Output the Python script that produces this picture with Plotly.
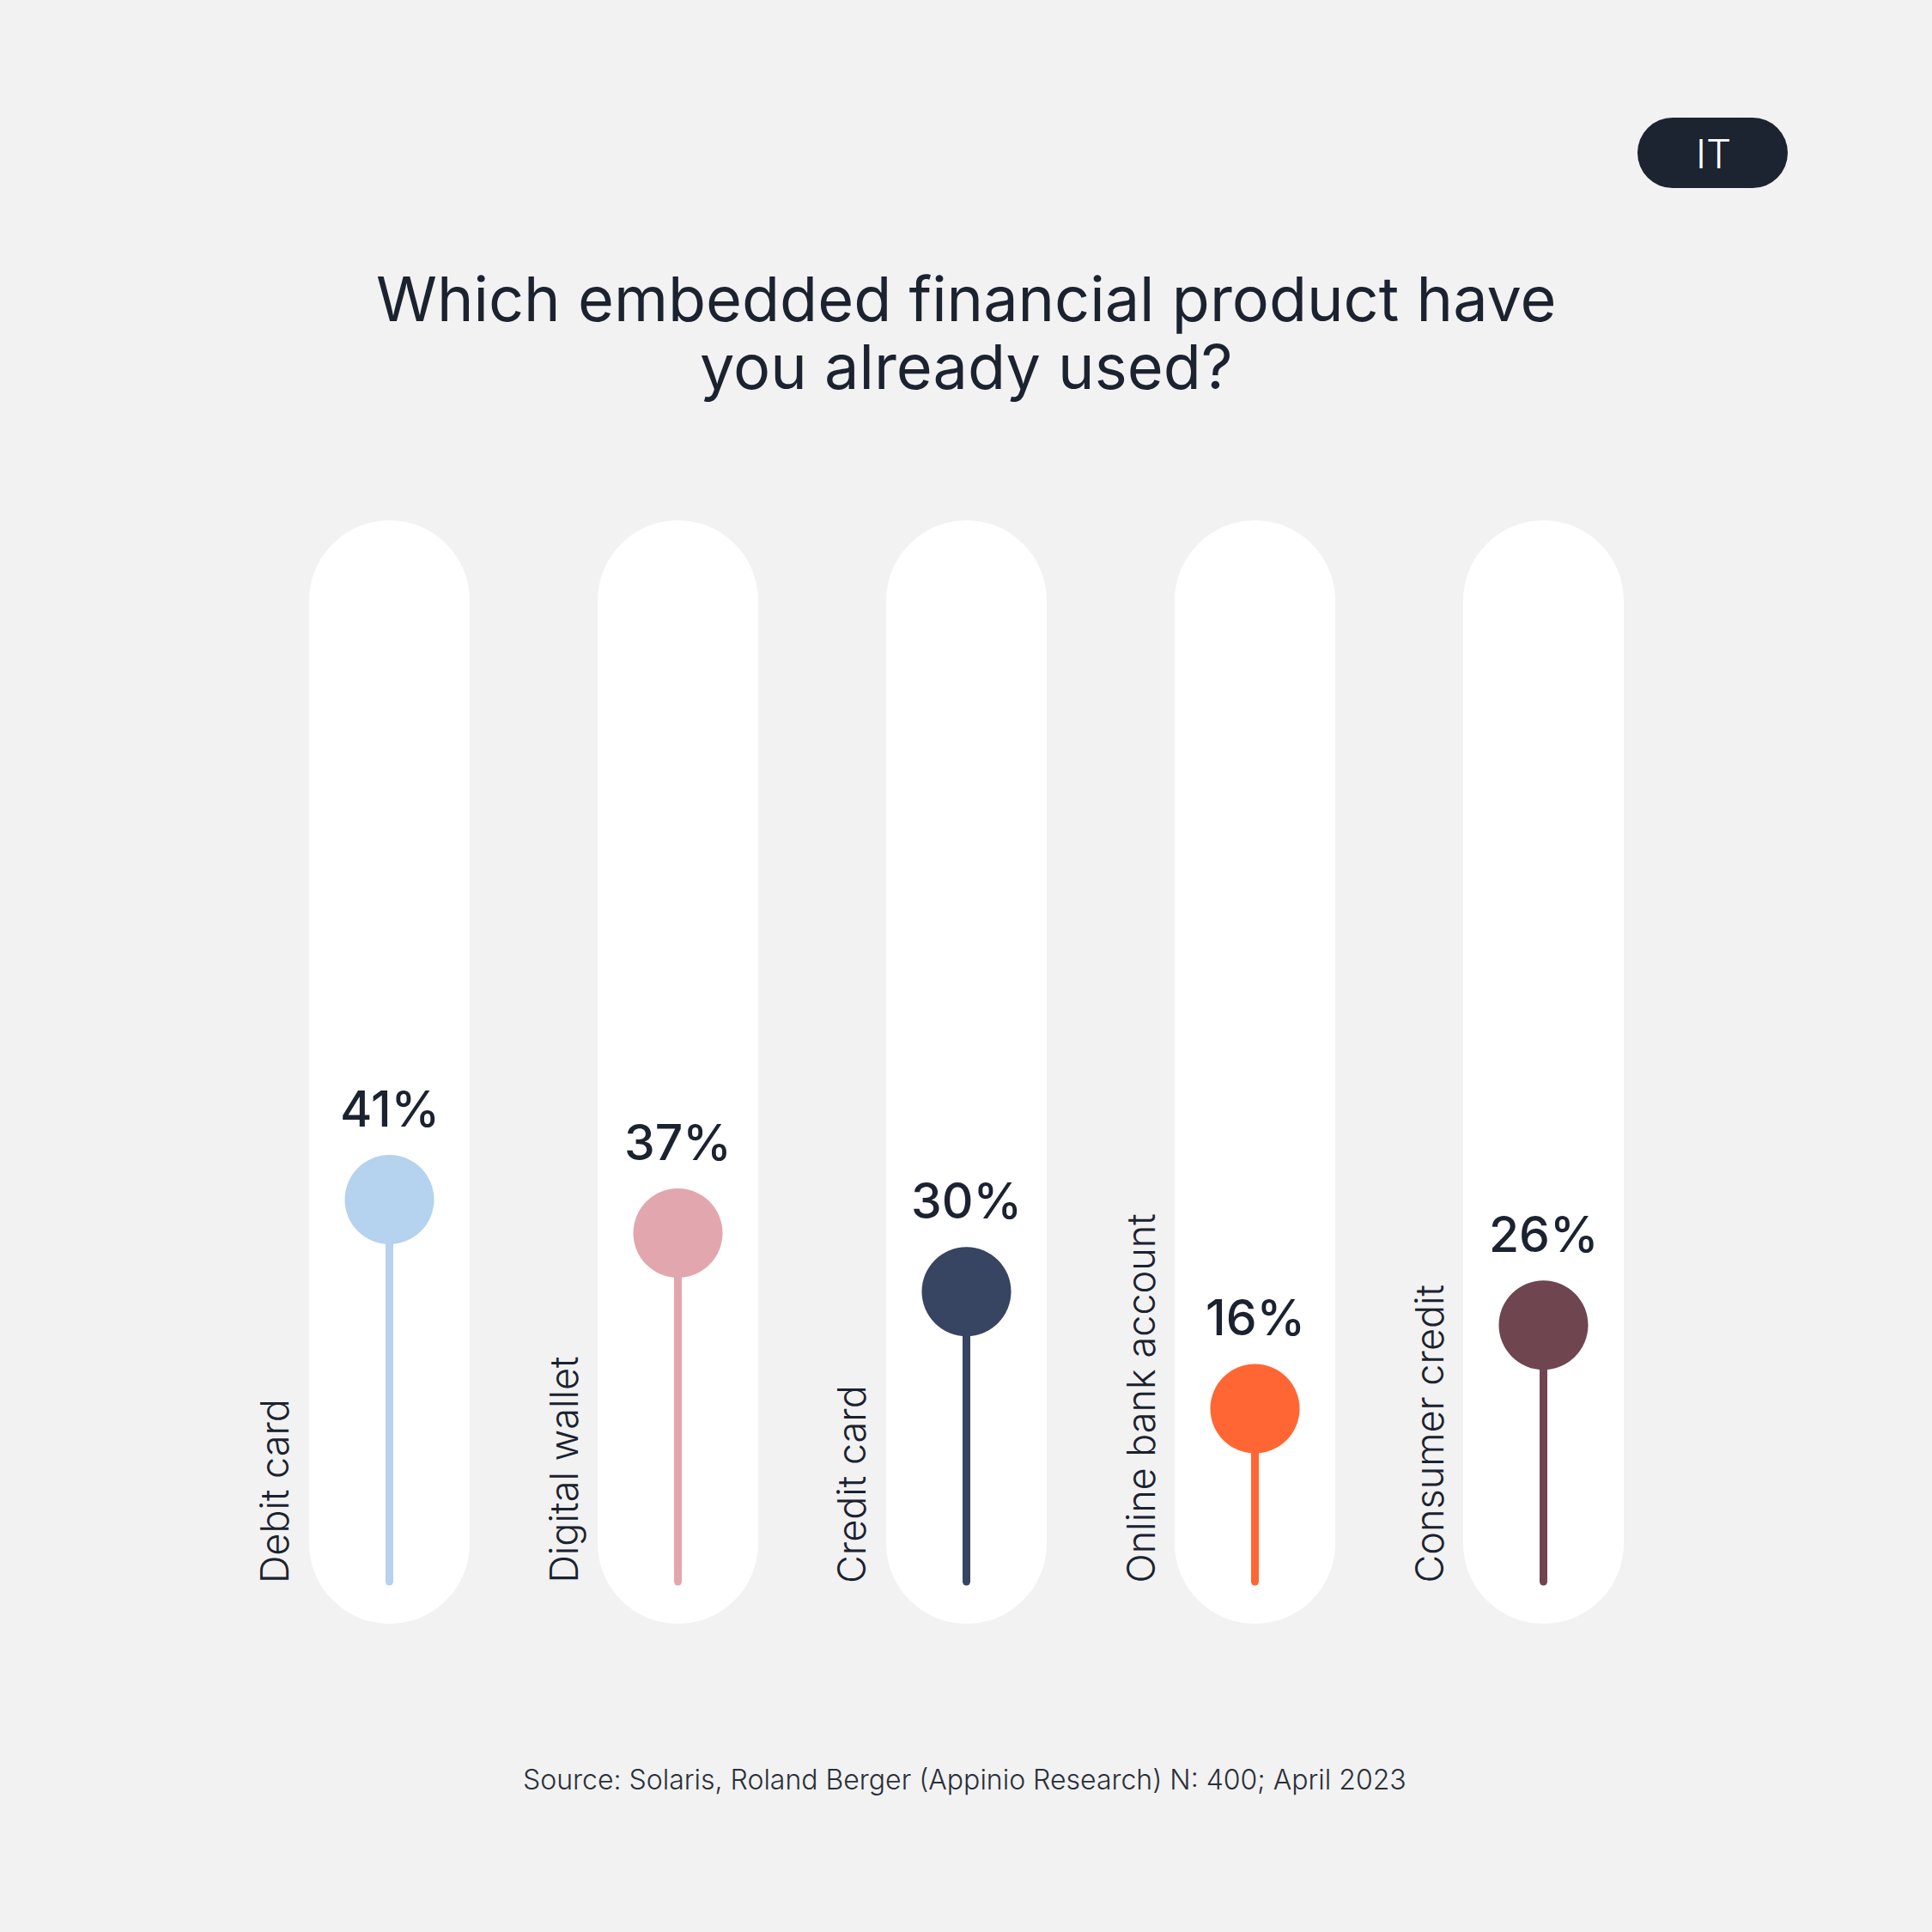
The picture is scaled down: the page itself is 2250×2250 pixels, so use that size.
import plotly.graph_objects as go

# ---- data ----
categories = ["Debit card", "Digital wallet", "Credit card", "Online bank account", "Consumer credit"]
values = [41, 37, 30, 16, 26]
value_labels = ["41%", "37%", "30%", "16%", "26%"]
colors = ["#b5d2ef", "#e2a7ae", "#374462", "#ff6633", "#6f4550"]

title_lines = ["Which embedded financial product have", "you already used?"]
source_text = "Source: Solaris, Roland Berger (Appinio Research) N: 400; April 2023"
badge_text = "IT"

# ---- layout constants ----
W = H = 2250
BG = "#f2f2f2"
DARK = "#1b2230"
FONT = "Inter, Open Sans, sans-serif"

COL_X0_PX = 453.5      # pixel center of first column
COL_STEP_PX = 336.0    # pixel spacing between columns
COL_HALF_PX = 93.5     # half width of white column
COL_TOP_PX = 606.0
COL_BOT_PX = 1891.0

BASE_PX = 1842.0       # pixel position of the stems' baseline
PX_PER_PT = 9.74
BASE_VAL = -4.68       # value at the stems' baseline

x_range = [-COL_X0_PX / COL_STEP_PX, (W - COL_X0_PX) / COL_STEP_PX]
y_range = [BASE_VAL - (H - BASE_PX) / PX_PER_PT, BASE_VAL + BASE_PX / PX_PER_PT]


def py(px):
    return 1 - px / H


def px_x(px):
    return px / W


fig = go.Figure()
shapes = []
hw = COL_HALF_PX / COL_STEP_PX
for i in range(len(categories)):
    # white rounded column: rect + two circles
    shapes.append(dict(type="rect", xref="x", yref="paper", x0=i - hw, x1=i + hw,
                       y0=py(COL_BOT_PX - COL_HALF_PX), y1=py(COL_TOP_PX + COL_HALF_PX),
                       fillcolor="white", line=dict(width=0), layer="below"))
    for cy in (COL_TOP_PX + COL_HALF_PX, COL_BOT_PX - COL_HALF_PX):
        shapes.append(dict(type="circle", xref="x", yref="paper", x0=i - hw, x1=i + hw,
                           y0=py(cy + COL_HALF_PX), y1=py(cy - COL_HALF_PX),
                           fillcolor="white", line=dict(width=0), layer="below"))

# badge
BADGE_L, BADGE_R, BADGE_T, BADGE_B = 1907, 2082, 137, 219
br = (BADGE_B - BADGE_T) / 2
shapes.append(dict(type="rect", xref="paper", yref="paper",
                   x0=px_x(BADGE_L + br), x1=px_x(BADGE_R - br), y0=py(BADGE_B), y1=py(BADGE_T),
                   fillcolor="#1c2331", line=dict(width=0)))
for cx in (BADGE_L + br, BADGE_R - br):
    shapes.append(dict(type="circle", xref="paper", yref="paper",
                       x0=px_x(cx - br), x1=px_x(cx + br), y0=py(BADGE_B), y1=py(BADGE_T),
                       fillcolor="#1c2331", line=dict(width=0)))

for i, (cat, v, c) in enumerate(zip(categories, values, colors)):
    fig.add_trace(go.Scatter(x=[i, i], y=[BASE_VAL, v], mode="lines",
                             line=dict(color=c, width=9), hoverinfo="skip", showlegend=False))
    fig.add_trace(go.Scatter(x=[i], y=[BASE_VAL], mode="markers",
                             marker=dict(color=c, size=9, line=dict(width=0)),
                             hoverinfo="skip", showlegend=False))
    fig.add_trace(go.Scatter(x=[i], y=[v], mode="markers",
                             marker=dict(color=c, size=104, line=dict(width=0)),
                             name=cat, showlegend=False))

annotations = []
for i, (cat, v, lab) in enumerate(zip(categories, values, value_labels)):
    annotations.append(dict(x=i, y=v, xref="x", yref="y", text=lab, showarrow=False,
                            yshift=106, xanchor="center", yanchor="middle",
                            font=dict(family=FONT, size=57, color=DARK, weight=500)))
    annotations.append(dict(x=i, y=BASE_VAL, xref="x", yref="y", text=cat, showarrow=False,
                            xshift=-134, yshift=-4, xanchor="center", yanchor="bottom", textangle=-90,
                            font=dict(family=FONT, size=45, color=DARK, weight=300)))

annotations.append(dict(x=px_x(1125), y=py(347), xref="paper", yref="paper", text=title_lines[0],
                        showarrow=False, xanchor="center", yanchor="middle",
                        font=dict(family=FONT, size=72, color=DARK, weight=400)))
annotations.append(dict(x=px_x(1125), y=py(426), xref="paper", yref="paper", text=title_lines[1],
                        showarrow=False, xanchor="center", yanchor="middle",
                        font=dict(family=FONT, size=72, color=DARK, weight=400)))
annotations.append(dict(x=px_x(1123), y=py(2072), xref="paper", yref="paper", text=source_text,
                        showarrow=False, xanchor="center", yanchor="middle",
                        font=dict(family=FONT, size=32, color="#2a2f3a", weight=300)))
annotations.append(dict(x=px_x(1995), y=py(179), xref="paper", yref="paper", text=badge_text,
                        showarrow=False, xanchor="center", yanchor="middle",
                        font=dict(family=FONT, size=46, color="white", weight=300)))

fig.update_layout(
    width=W, height=H, margin=dict(l=0, r=0, t=0, b=0),
    paper_bgcolor=BG, plot_bgcolor=BG,
    xaxis=dict(range=x_range, visible=False, fixedrange=True),
    yaxis=dict(range=y_range, visible=False, fixedrange=True),
    shapes=shapes, annotations=annotations, showlegend=False,
)

fig.write_html("out.html")
